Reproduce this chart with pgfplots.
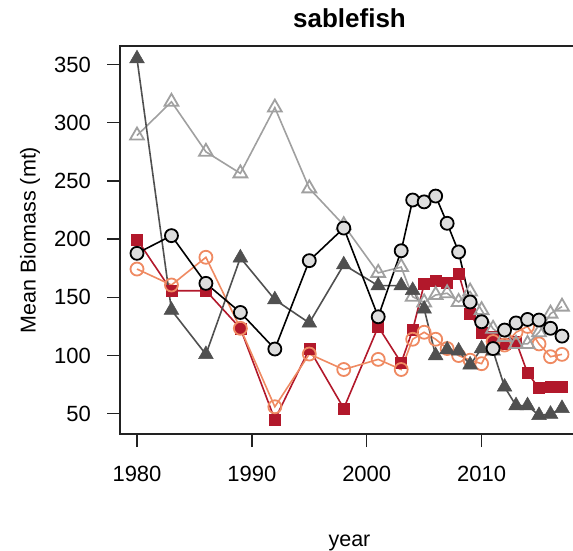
\documentclass[border=0pt]{standalone}
\usepackage{pgfplots}
\pgfplotsset{compat=1.18}
\usepackage{fontspec}
\setmainfont{Liberation Sans}
\definecolor{dkg}{HTML}{505050}
\definecolor{ltg}{HTML}{A0A0A0}
\definecolor{cfill}{HTML}{DDDDDD}
\definecolor{red1}{HTML}{B2182B}
\definecolor{salm}{HTML}{EF8A62}
\definecolor{axc}{HTML}{222222}

\pgfplotstableread{
year val
1980 355
1983 139
1986 101
1989 184
1992 148
1995 128
1998 178
2001 160
2003 160
2004 156
2005 140
2006 100
2007 105
2008 104
2009 92
2010 106
2011 104
2012 73
2013 57
2014 57
2015 48.6
2016 49.7
2017 54.6
}\dkgtab

\pgfplotstableread{
year val
1980 289
1983 318
1986 275
1989 256.5
1992 313
1995 243.6
1998 212
2001 171
2003 176
2004 150.5
2005 145.6
2006 152
2007 153.5
2008 146
2009 155
2010 139
2011 123
2012 116
2013 110
2014 110
2015 120
2016 136
2017 142
}\ltgtab

\pgfplotstableread{
year val
1980 187.8
1983 203
1986 162
1989 137
1992 105.6
1995 181.5
1998 209.5
2001 133.3
2003 190
2004 233.6
2005 232
2006 237
2007 213.6
2008 189
2009 146
2010 129
2011 106
2012 121.9
2013 128
2014 131
2015 130.5
2016 123.4
2017 116.7
}\blktab

\pgfplotstableread{
year val
1980 199.8
1983 155.7
1986 155.7
1989 123.4
1992 45
1995 105.6
1998 54.6
2001 124.8
2003 93.8
2004 121.9
2005 161.4
2006 164
2007 162.5
2008 170.6
2009 136
2010 120
2011 116
2012 110
2013 112
2014 85
2015 72
2016 73.2
2017 73.2
}\redtab

\pgfplotstableread{
year val
1980 174.3
1983 160.6
1986 184.4
1989 123.4
1992 56
1995 101.3
1998 88
2001 96.7
2003 88
2004 114
2005 120
2006 114
2007 106
2008 100
2009 96
2010 93
2011 112
2012 109
2013 120
2014 125
2015 110
2016 99
2017 101
}\saltab

\begin{document}
\begin{tikzpicture}[x=1pt,y=1pt]
\begin{axis}[
  at={(0,0)}, anchor=south west,
  scale only axis, width=459pt, height=388pt,
  xmin=1978.52, xmax=2018.48, ymin=32.6, ymax=365.9,
  clip=false,
  axis line style={axc, line width=1.6pt},
  every tick/.style={axc, line width=1.4pt},
  tick align=outside, major tick length=13pt,
  xtick={1980,1990,2000,2010},
  ytick={50,100,...,350},
  xtick pos=bottom, ytick pos=left,
  /pgf/number format/assume math mode=true,
  /pgf/number format/1000 sep={},
  tick label style={font=\fontsize{22}{24}\selectfont, text=black},
  yticklabel style={anchor=east, inner sep=0pt, xshift=-16pt},
  xticklabel style={anchor=base, inner sep=0pt, yshift=-34pt},
  title={\textbf{sablefish}},
  title style={at={(axis description cs:0.5,1)}, anchor=base, yshift=12pt, font=\fontsize{26}{28}\selectfont, inner sep=0pt},
  xlabel={year},
  ylabel={Mean Biomass (mt)},
  every axis x label/.style={at={(axis description cs:0.5,0)}, anchor=base, yshift=-112pt, font=\fontsize{21.5}{24}\selectfont, inner sep=0pt},
  every axis y label/.style={at={(axis description cs:-0.196,0.5)}, anchor=center, rotate=90, font=\fontsize{21.5}{24}\selectfont, inner sep=0pt},
]
\addplot[red1, line width=1.6pt, mark=square*, mark size=5.5pt, mark options={fill=red1, draw=red1, line width=0.5pt}] table[x=year,y=val]{\redtab};
\addplot[salm, line width=1.6pt, mark=o, mark size=6.5pt, mark options={draw=salm, line width=1.8pt}] table[x=year,y=val]{\saltab};
\addplot[ltg, line width=1.6pt, mark=triangle, mark size=8pt, mark options={draw=ltg, line width=1.8pt}] table[x=year,y=val]{\ltgtab};
\addplot[dkg, line width=1.6pt, mark=triangle*, mark size=8.5pt, mark options={fill=dkg, draw=dkg, line width=0.5pt}] table[x=year,y=val]{\dkgtab};
\addplot[black, line width=1.6pt, mark=*, mark size=6.5pt, mark options={fill=cfill, draw=black, line width=1.8pt}] table[x=year,y=val]{\blktab};
\end{axis}
\pgfresetboundingbox
\useasboundingbox (-120,-116) rectangle (453,434);
\end{tikzpicture}
\end{document}
